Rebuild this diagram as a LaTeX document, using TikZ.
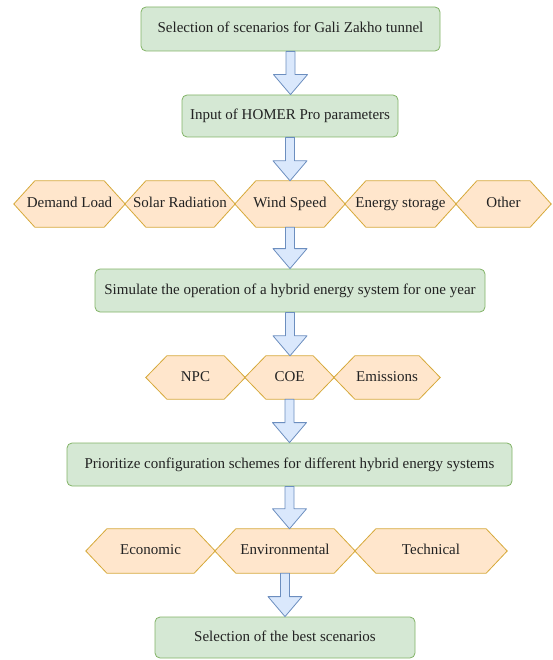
\documentclass[tikz,border=0pt]{standalone}
\usepackage{fontspec}
\setmainfont{Liberation Serif}
\usetikzlibrary{calc,backgrounds}
\definecolor{boxfill}{HTML}{D5E8D4}
\definecolor{boxline}{HTML}{82B366}
\definecolor{hexfill}{HTML}{FFE6CC}
\definecolor{hexline}{HTML}{D6A93A}
\definecolor{arrfill}{HTML}{DAE8FC}
\definecolor{arrline}{HTML}{6C8EBF}
\definecolor{txt}{HTML}{222222}
% block arrow between two nodes
\newcommand{\flowarrow}[2]{%
  \draw[flow] let \p1=(#1.south), \p2=(#2.north) in
    (\x1-4.5pt,\y1) -- (\x1-4.5pt,\y2+20pt) -- (\x1-17pt,\y2+20pt) -- (\x1,\y2)
    -- (\x1+17pt,\y2+20pt) -- (\x1+4.5pt,\y2+20pt) -- (\x1+4.5pt,\y1) -- cycle;}
\begin{document}
\begin{tikzpicture}[x=1pt,y=-1pt,line join=round,font=\fontsize{15}{18}\selectfont\color{txt},
	every node/.style={text height=10.5pt,text depth=3.5pt}]
	\tikzset{step box/.style={draw=boxline,fill=boxfill,line width=0.8pt,rounded corners=5pt,inner sep=0pt},
		hex/.style={inner sep=0pt,minimum height=#1},
		hexdraw/.style={draw=hexline,fill=hexfill,line width=0.8pt},
		flow/.style={draw=arrline,fill=arrfill,line width=0.8pt}}
	\useasboundingbox (0,0) rectangle (552,660);
	% main steps
	\node[step box,minimum width=299pt,minimum height=44pt] (sel) at (290.5,29) {Selection of scenarios for Gali Zakho tunnel};
	\node[step box,minimum width=216pt,minimum height=42pt] (inp) at (290,116) {Input of HOMER Pro parameters};
	\node[step box,minimum width=390pt,minimum height=43pt] (sim) at (290,290.5) {Simulate the operation of a hybrid energy system for one year};
	\node[step box,minimum width=445pt,minimum height=43pt] (pri) at (289.5,464.5) {Prioritize configuration schemes for different hybrid energy systems};
	\node[step box,minimum width=260pt,minimum height=41pt] (best) at (285,637.5) {Selection of the best scenarios};
	% parameters
	\node[hex=46pt,minimum width=111pt] (load) at (69.5,204) {Demand Load};
	\node[hex=46pt,minimum width=110pt] (solar) at (180,204) {Solar Radiation};
	\node[hex=46pt,minimum width=110pt] (wind) at (290,204) {Wind Speed};
	\node[hex=46pt,minimum width=111pt] (stor) at (400.5,204) {Energy storage};
	\node[hex=46pt,minimum width=95pt] (other) at (503.5,204) {Other};
	% results
	\node[hex=43pt,minimum width=99pt] (npc) at (195.5,377.5) {NPC};
	\node[hex=43pt,minimum width=89pt] (coe) at (289.5,377.5) {COE};
	\node[hex=43pt,minimum width=106pt] (emis) at (387,377.5) {Emissions};
	% criteria
	\node[hex=44pt,minimum width=129pt] (econ) at (150.5,551) {Economic};
	\node[hex=44pt,minimum width=140pt] (env) at (285,551) {Environmental};
	\node[hex=44pt,minimum width=152pt] (tech) at (431,551) {Technical};
	\begin{scope}[on background layer]
	\foreach \n in {load,solar,wind,stor,other,npc,coe,emis,econ,env,tech}
	\draw[hexdraw] (\n.west) -- ($(\n.north west)+(21pt,0)$) -- ($(\n.north east)+(-21pt,0)$) -- (\n.east)
		-- ($(\n.south east)+(-21pt,0)$) -- ($(\n.south west)+(21pt,0)$) -- cycle;
	\end{scope}
	\flowarrow{sel}{inp}
	\flowarrow{inp}{wind}
	\flowarrow{wind}{sim}
	\flowarrow{sim}{coe}
	\flowarrow{coe}{pri}
	\flowarrow{pri}{env}
	\flowarrow{env}{best}
\end{tikzpicture}
\end{document}
